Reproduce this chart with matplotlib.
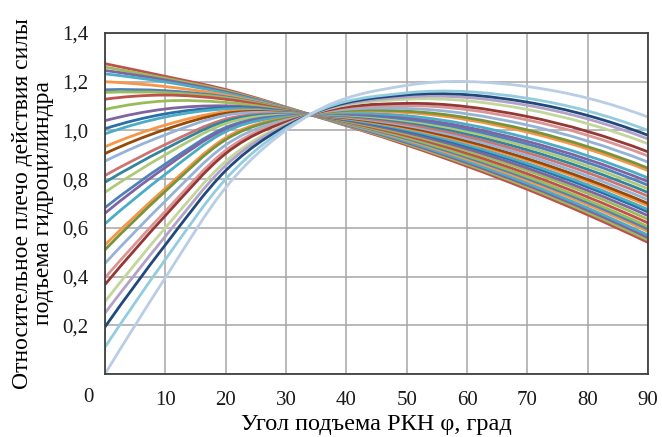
# -*- coding: utf-8 -*-
import matplotlib
matplotlib.use('Agg')
import matplotlib.pyplot as plt
from matplotlib.path import Path
from matplotlib.patches import PathPatch

plt.rcParams['font.family'] = ['Liberation Serif', 'DejaVu Serif']

# Угол подъема, град (общие точки для всех кривых)
phi = [0, 10, 20, 34, 50, 70, 90]

# Относительное плечо для каждого варианта, сверху вниз по значению при phi = 0
curves = [
    [1.274, 1.222, 1.168, 1.065, 0.940, 0.758, 0.540],
    [1.260, 1.214, 1.163, 1.065, 0.945, 0.767, 0.550],
    [1.246, 1.207, 1.158, 1.065, 0.950, 0.775, 0.560],
    [1.232, 1.199, 1.153, 1.065, 0.955, 0.783, 0.570],
    [1.200, 1.180, 1.145, 1.065, 0.961, 0.794, 0.585],
    [1.167, 1.163, 1.138, 1.065, 0.966, 0.802, 0.595],
    [1.156, 1.155, 1.134, 1.065, 0.971, 0.810, 0.605],
    [1.128, 1.145, 1.128, 1.065, 0.978, 0.822, 0.620],
    [1.086, 1.121, 1.115, 1.065, 0.985, 0.835, 0.635],
    [1.040, 1.088, 1.101, 1.065, 0.991, 0.845, 0.650],
    [1.007, 1.068, 1.093, 1.065, 0.998, 0.857, 0.665],
    [0.986, 1.055, 1.088, 1.065, 1.003, 0.865, 0.675],
    [0.933, 1.022, 1.077, 1.065, 1.009, 0.877, 0.690],
    [0.905, 1.004, 1.070, 1.065, 1.013, 0.884, 0.700],
    [0.874, 0.982, 1.062, 1.065, 1.020, 0.896, 0.715],
    [0.815, 0.942, 1.046, 1.065, 1.026, 0.908, 0.730],
    [0.787, 0.924, 1.038, 1.065, 1.034, 0.920, 0.745],
    [0.746, 0.900, 1.028, 1.065, 1.040, 0.932, 0.760],
    [0.683, 0.862, 1.012, 1.065, 1.046, 0.944, 0.775],
    [0.660, 0.848, 1.005, 1.065, 1.052, 0.955, 0.790],
    [0.617, 0.820, 0.995, 1.065, 1.060, 0.969, 0.805],
    [0.530, 0.762, 0.970, 1.065, 1.073, 0.993, 0.835],
    [0.510, 0.750, 0.962, 1.065, 1.079, 1.002, 0.845],
    [0.454, 0.710, 0.940, 1.065, 1.090, 1.022, 0.870],
    [0.395, 0.668, 0.918, 1.065, 1.102, 1.043, 0.895],
    [0.367, 0.650, 0.905, 1.065, 1.111, 1.057, 0.912],
    [0.297, 0.600, 0.873, 1.065, 1.128, 1.086, 0.945],
    [0.250, 0.565, 0.856, 1.065, 1.137, 1.103, 0.965],
    [0.193, 0.530, 0.835, 1.065, 1.146, 1.116, 0.980],
    [0.110, 0.470, 0.800, 1.065, 1.154, 1.132, 1.000],
    [0.000, 0.395, 0.765, 1.065, 1.185, 1.180, 1.055],
]

colors = [
    '#C0504D', '#9BBB59', '#8064A2', '#4BACC6', '#F79646', '#4F81BD',
    '#9BBB59', '#C0504D', '#9BBB59', '#8064A2', '#2C6FA6', '#4BACC6',
    '#F79646', '#984807', '#95B3D7', '#CD7371', '#31859C', '#AFC97A',
    '#4F81BD', '#8064A2', '#4BACC6', '#F79646', '#77933C', '#95B3D7',
    '#D99694', '#953735', '#C3D69B', '#B3A2C7', '#1F497D', '#93CDDD',
    '#B9CDE5',
]

x_ticks = [0, 10, 20, 30, 40, 50, 60, 70, 80, 90]
y_ticks = [0, 0.2, 0.4, 0.6, 0.8, 1.0, 1.2, 1.4]
y_tick_labels = ['', '0,2', '0,4', '0,6', '0,8', '1,0', '1,2', '1,4']


def smooth_path(xs, ys):
    # сглаженная линия как в Excel: кубические кривые Безье через точки
    n = len(xs)
    m = [0.0] * n
    for k in range(1, n - 1):
        h0 = xs[k] - xs[k - 1]
        h1 = xs[k + 1] - xs[k]
        d0 = (ys[k] - ys[k - 1]) / h0
        d1 = (ys[k + 1] - ys[k]) / h1
        m[k] = (h1 * d0 + h0 * d1) / (h0 + h1)
    m[0] = 2 * (ys[1] - ys[0]) / (xs[1] - xs[0]) - m[1]
    m[-1] = 2 * (ys[-1] - ys[-2]) / (xs[-1] - xs[-2]) - m[-2]
    verts = [(xs[0], ys[0])]
    codes = [Path.MOVETO]
    for k in range(n - 1):
        h = xs[k + 1] - xs[k]
        verts += [(xs[k] + h / 3, ys[k] + m[k] * h / 3),
                  (xs[k + 1] - h / 3, ys[k + 1] - m[k + 1] * h / 3),
                  (xs[k + 1], ys[k + 1])]
        codes += [Path.CURVE4] * 3
    return Path(verts, codes)


fig = plt.figure(figsize=(6.62, 4.37), dpi=100)
ax = fig.add_axes([0.1586, 0.1442, 0.8203, 0.7803])

for ys, c in zip(curves, colors):
    ax.add_patch(PathPatch(smooth_path(phi, ys), fill=False,
                           edgecolor=c, lw=2.0, capstyle='butt'))

ax.set_xlim(0, 90)
ax.set_ylim(0, 1.4)
ax.set_xticks(x_ticks)
ax.set_xticklabels([''] + [str(v) for v in x_ticks[1:]])
ax.set_yticks(y_ticks)
ax.set_yticklabels(y_tick_labels)
ax.tick_params(length=0, labelsize=15, colors='#1a1a1a', pad=12)
ax.tick_params(axis='x', pad=12)
ax.grid(True, color='#A6A6A6', lw=1.1)
ax.set_axisbelow(True)
for s in ax.spines.values():
    s.set_color('#404040')
    s.set_linewidth(1.3)

# общий ноль в углу
ax.annotate('0', xy=(0, 0), xytext=(-17, -24), textcoords='offset pixels',
            ha='center', va='center', fontsize=15, color='#1a1a1a')

ax.set_xlabel('Угол подъема РКН φ, град', fontsize=17.5, labelpad=3)
ax.set_ylabel('Относительное плечо действия силы\nподъема гидроцилиндра',
              fontsize=17, labelpad=6, linespacing=1.0)

fig.savefig('out.png', dpi=100)
